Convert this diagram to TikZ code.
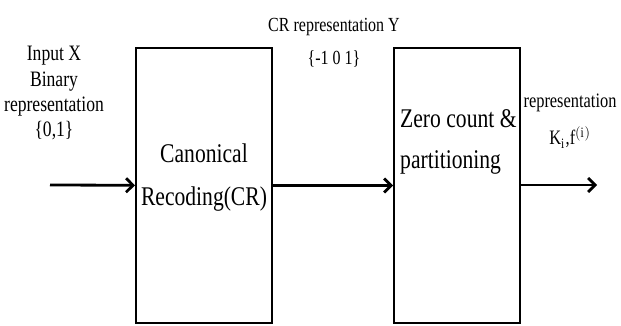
\documentclass[tikz,border=0pt]{standalone}
\usepackage{fontspec}
\setmainfont{Liberation Serif}[FakeStretch=0.8]
\usetikzlibrary{positioning,arrows.meta}

\begin{document}
\begin{tikzpicture}[x=1pt,y=-1pt,
	block/.style={draw,line width=2pt,minimum width=#1,minimum height=275pt,inner sep=0pt},
	flow/.style={line width=2.8pt,-{Straight Barb[length=7pt,width=14pt]}},
	lbl/.style={inner sep=0pt,anchor=base,align=center}]
	\def\W{621}
	\def\H{326}
	\def\ymid{185}
	\fill[white] (0,0) rectangle (\W,\H);
	\useasboundingbox (0,0) rectangle (\W,\H);
	
	% the two blocks
	\node[block=136pt] (cr) at (204,185.5) {};
	\node[block=126pt] (zc) at (457,185.5) {};
	\node[lbl,font=\fontsize{27}{43}\selectfont] (crtext) at (204,205) {Canonical\\Recoding(CR)};
	\node[lbl,align=left,anchor=base west,font=\fontsize{27}{41}\selectfont] (zctext) at (400,168) {Zero count \&\\partitioning};
	
	% labels (base = last line)
	\node[lbl,font=\fontsize{22}{25.5}\selectfont] (inlabel) at (54,137) {Input X\\Binary\\representation\\\{0,1\}};
	\node[lbl,font=\fontsize{20}{33}\selectfont] (crlabel) at (334,65) {CR representation Y\\\{-1 0 1\}};
	\node[lbl,font=\fontsize{20.5}{37}\selectfont] (outlabel) at (570,145) {representation\\K$_{\mathrm{i}}$,f$^{\mathrm{(i)}}$};
	
	% connectors
	\coordinate (in) at (50,\ymid);
	\coordinate (out) at (597,\ymid);
	\draw[flow] (in) -- (cr);
	\draw[flow] (cr) -- (zc);
	\draw[flow] (zc.east |- out) -- (out);
\end{tikzpicture}
\end{document}
